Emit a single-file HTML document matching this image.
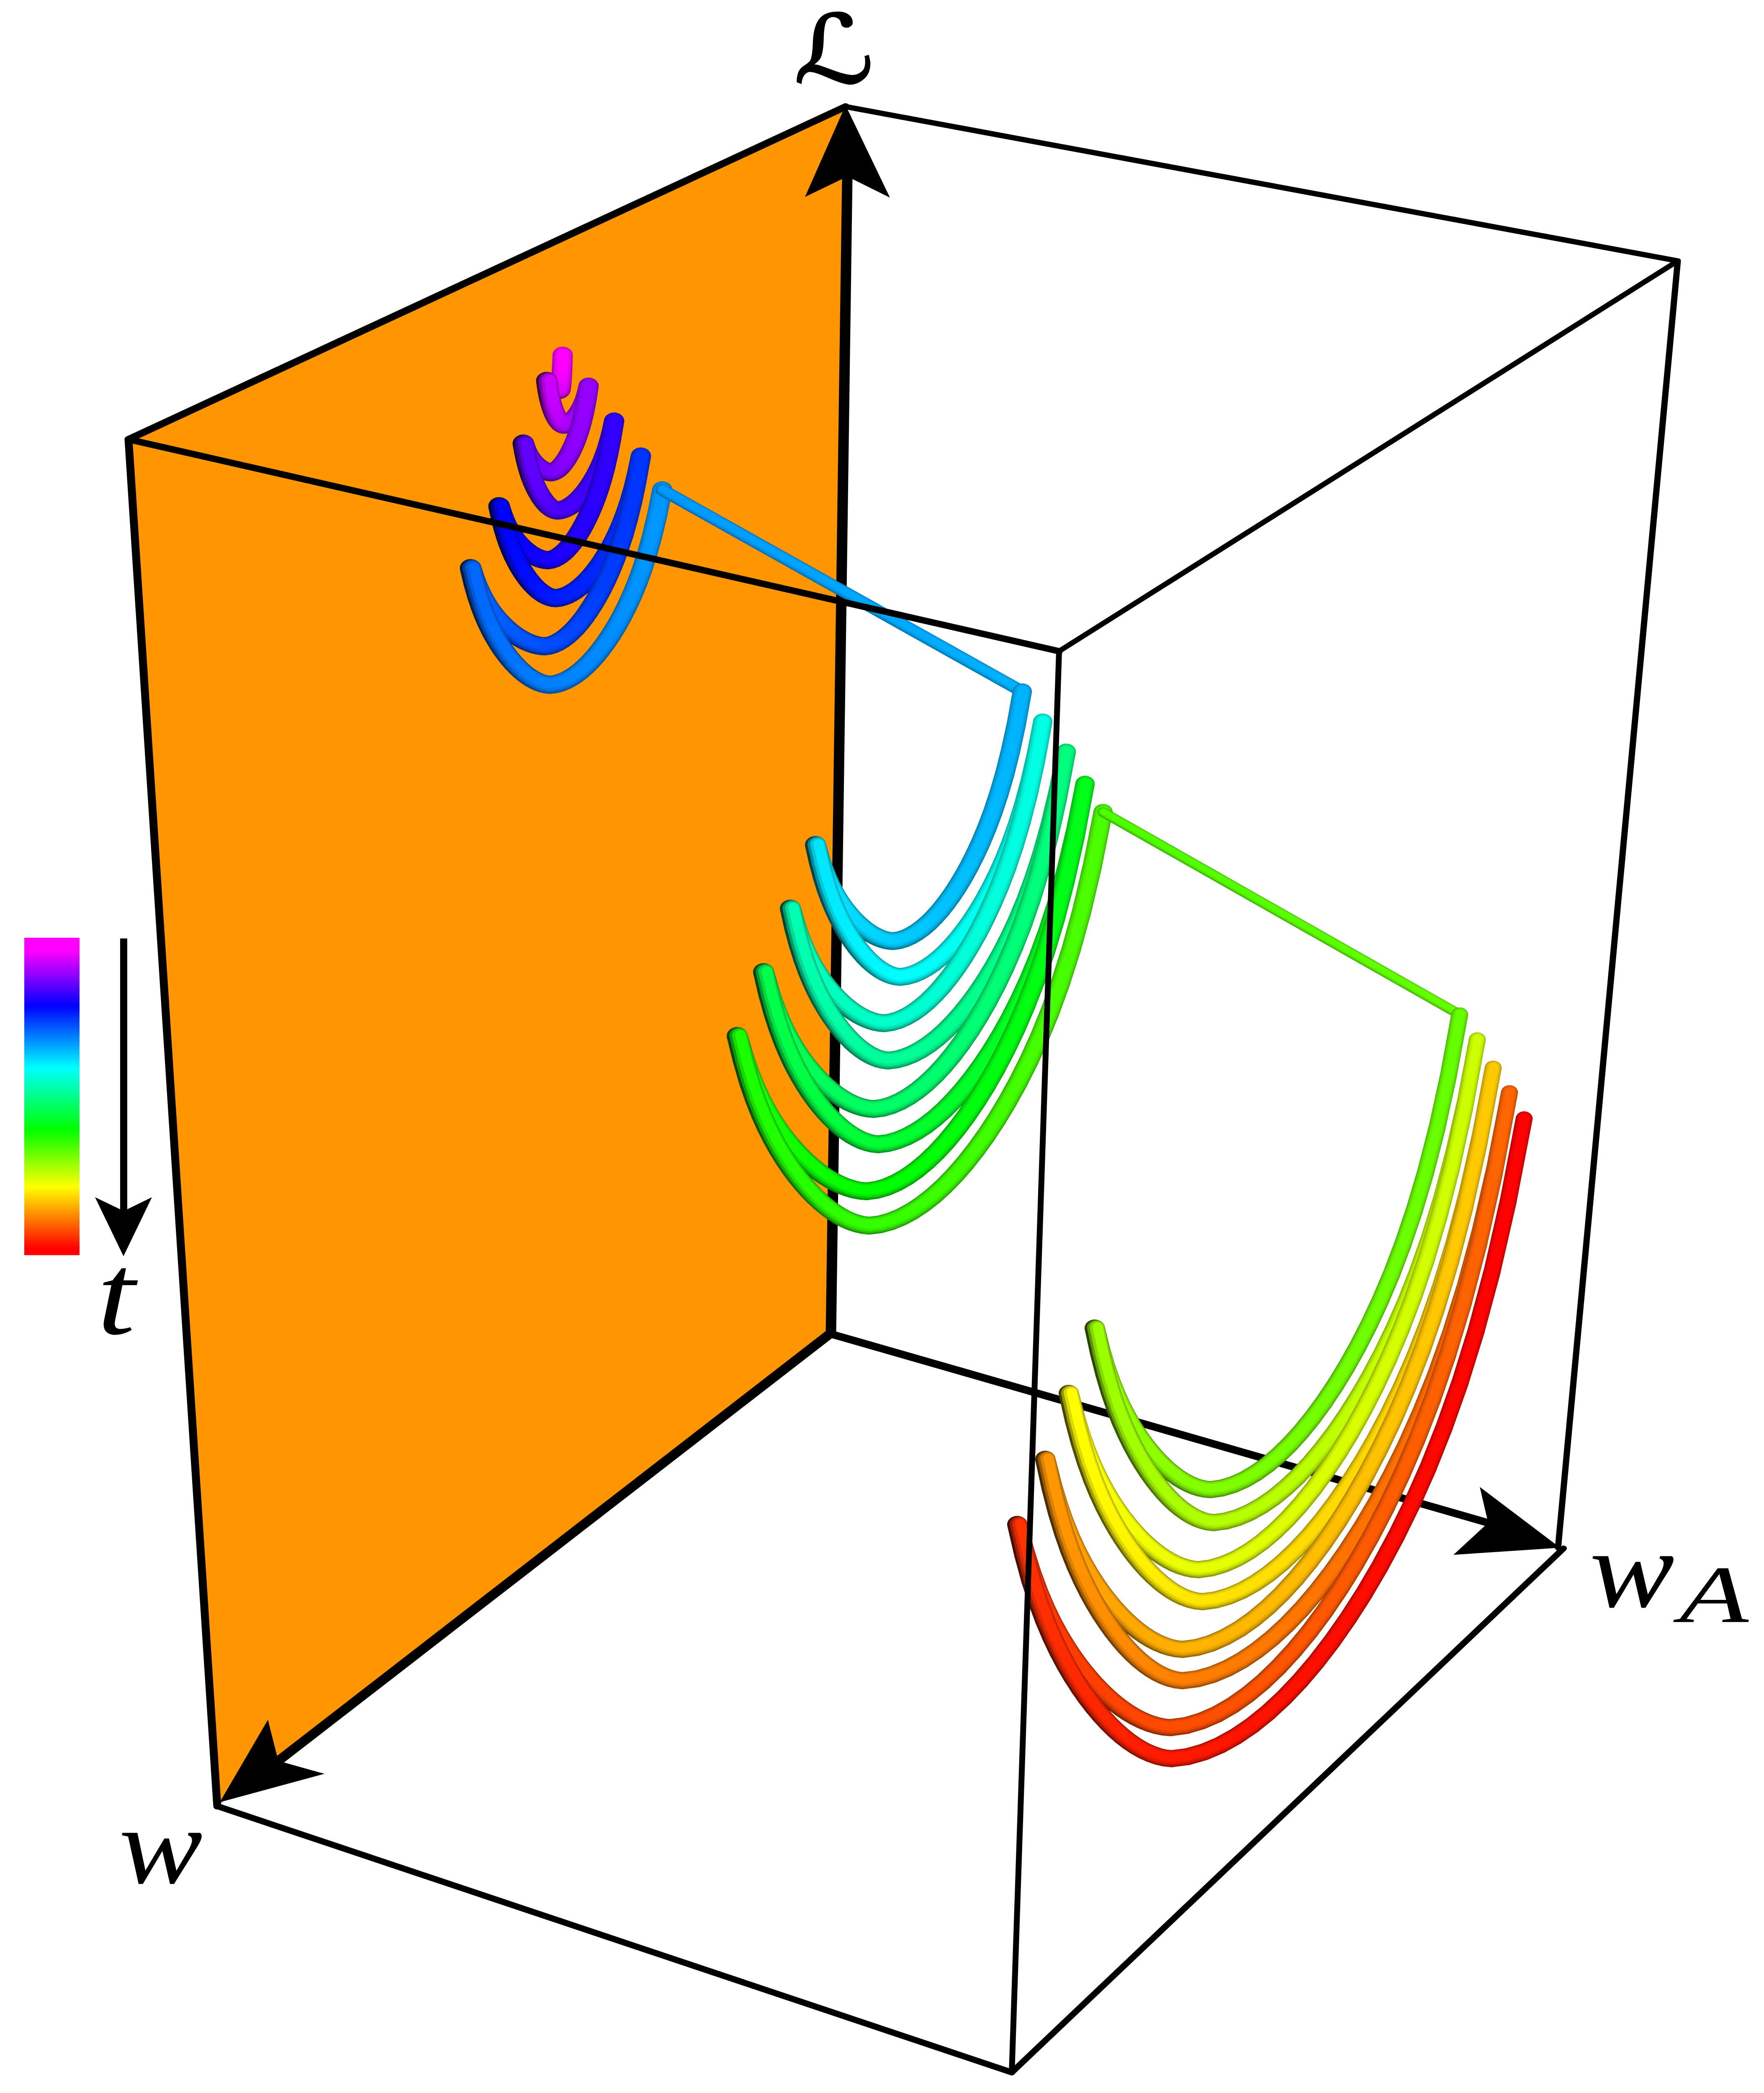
<!DOCTYPE html>
<html lang="en">
<head>
<meta charset="utf-8">
<title>Loss trajectory in weight space</title>
<style>
html,body{margin:0;padding:0;background:#fff;width:100vw;height:100vh;overflow:hidden;}
svg{display:block;position:absolute;left:0;top:0;width:100%;height:100%;}
text{fill:#000;font-family:"Liberation Serif","DejaVu Serif",serif;font-style:italic;}
</style>
</head>
<body>
<svg id="chart" xmlns="http://www.w3.org/2000/svg" viewBox="0 0 4214 5888" preserveAspectRatio="none">
  <defs>
    <linearGradient id="time-gradient" x1="0" y1="0" x2="0" y2="1">
      <stop offset="0.04" stop-color="#ff00ff"/>
      <stop offset="0.215" stop-color="#0000ff"/>
      <stop offset="0.41" stop-color="#00ffff"/>
      <stop offset="0.605" stop-color="#00ff00"/>
      <stop offset="0.785" stop-color="#ffff00"/>
      <stop offset="0.98" stop-color="#ff0000"/>
    </linearGradient>
  </defs>
  <rect x="0" y="0" width="4214" height="5888" fill="#fff"/>
  <polygon points="2024,292 307,1236 519,5081 1983,3752" fill="#ff9500"/>

  <g fill="none" stroke="#000" stroke-linecap="round" stroke-linejoin="round">
    <line x1="2020" y1="300" x2="307" y2="1236" stroke-width="19"/>
    <line x1="2020" y1="300" x2="4008" y2="734" stroke-width="15"/>
    <line x1="4008" y1="734" x2="2530" y2="1832" stroke-width="14"/>
    <line x1="4008" y1="734" x2="3722" y2="4354" stroke-width="15"/>
    <line x1="307" y1="1236" x2="519" y2="5081" stroke-width="19"/>
    <line x1="519" y1="5081" x2="2417" y2="5830" stroke-width="17"/>
    <line x1="3735" y1="4356" x2="2417" y2="5830" stroke-width="16"/>
  </g>

  <g stroke="#000" fill="#000">
    <line x1="1985" y1="3752" x2="2024" y2="500" stroke-width="25"/>
    <polygon stroke="none" points="2020,296 2126,556 2037,504 2011,504 1923,554"/>
    <line x1="1983" y1="3752" x2="670" y2="4949" stroke-width="25"/>
    <polygon stroke="none" points="525,5070 640,4838 662,4940 678,4958 775,4990"/>
    <line x1="1983" y1="3752" x2="3555" y2="4284" stroke-width="21"/>
    <polygon stroke="none" points="3727,4354 3535,4183 3555,4284 3472,4374"/>
  </g>

  <g id="tubes"></g>

  <g fill="none" stroke="#000" stroke-linecap="round">
    <line x1="307" y1="1236" x2="2530" y2="1832" stroke-width="18"/>
    <line x1="2530" y1="1832" x2="2417" y2="5830" stroke-width="14"/>
  </g>

  <g>
    <rect x="58" y="2638" width="132" height="893" fill="url(#time-gradient)"/>
    <rect x="287" y="2640" width="17" height="770" fill="#000"/>
    <polygon points="295,3534 227,3368 287,3402 304,3402 363,3368" fill="#000"/>
    <text x="232" y="3752" font-size="327">t</text>
  </g>

  <text x="1897" y="232" font-size="265" style="font-family:'DejaVu Sans','DejaVu Serif',serif;font-style:italic;stroke:#000;stroke-width:5">ℒ</text>
  <text x="284" y="5297" font-size="307" textLength="200" lengthAdjust="spacingAndGlyphs">w</text>
  <text x="3797" y="4520" font-size="310" textLength="203" lengthAdjust="spacingAndGlyphs">w</text>
  <text x="4012" y="4563" font-size="229" textLength="165" lengthAdjust="spacingAndGlyphs">A</text>
</svg>

<script>
// Weight plane held by each descent group
const groupWA = [0, 1, 2];

// Turning points: w and L values, alternating arm end / parabola bottom
const group1W = [-4.4, -3.7, -0.6, -4.7, -10.6, -1.6, 5.0, -3.2, -16.7, -0.9, 10.8, -2.7, -23.1, -0.1, 17.6, -1.4, -28.2];
const group1L = [396.1, 387.0, 392.3, 376.3, 381.8, 365.7, 379.7, 353.5, 366.5, 341.6, 367.3, 329.3, 350.9, 318.1, 356.0, 306.1, 336.8];

const group2W = [-28.5, 2.4, 20.9, 0.7, -33.4, 4.5, 26.9, 3.5, -39.0, 7.0, 33.3, 5.9, -43.5, 8.7, 39.6, 8.0, -47.8];
const group2L = [309.8, 267.4, 311.1, 255.8, 296.9, 246.2, 298.6, 234.8, 283.4, 224.3, 286.5, 213.4, 270.3, 202.7, 274.2, 192.4, 258.5];

const group3W = [-47.3, 12.3, 39.9, 11.5, -51.5, 15.1, 46.1, 14.2, -55.3, 18.9, 51.7, 18.9, -59.2, 21.8, 58.4, 21.5, -62.7];
const group3L = [232.0, 152.0, 222.3, 142.0, 221.2, 132.0, 209.5, 122.2, 209.8, 113.0, 196.0, 104.2, 199.4, 93.6, 183.7, 84.6, 188.9];

// Colour scale for time along the trajectory
const timeStops = [0, 0.2, 0.4, 0.6, 0.8, 1];
const timeColors = ['#ff00ff', '#0000ff', '#00ffff', '#00ff00', '#ffff00', '#ff0000'];

const groupWs = [group1W, group2W, group3W];
const groupLs = [group1L, group2L, group3L];
const SVGNS = 'http://www.w3.org/2000/svg';
const tubes = document.getElementById('tubes');

function xAxis(w, wA) { return 1300 + 857 * wA - 10 * w; }
function yAxis(w, L, wA) { return 5000 + 300 * wA + 9 * w - 10 * L; }
function project(w, L, wA) { return { x: xAxis(w, wA), y: yAxis(w, L, wA) }; }

function hexToRgb(h) {
  return [parseInt(h.substr(1, 2), 16), parseInt(h.substr(3, 2), 16), parseInt(h.substr(5, 2), 16)];
}
function colorAt(t) {
  let i = 0;
  while (i < timeStops.length - 2 && t > timeStops[i + 1]) i++;
  const f = Math.min(1, Math.max(0, (t - timeStops[i]) / (timeStops[i + 1] - timeStops[i])));
  const a = hexToRgb(timeColors[i]);
  const b = hexToRgb(timeColors[i + 1]);
  return [a[0] + (b[0] - a[0]) * f, a[1] + (b[1] - a[1]) * f, a[2] + (b[2] - a[2]) * f];
}
function shade(c, k) {
  return 'rgb(' + Math.round(c[0] * k) + ',' + Math.round(c[1] * k) + ',' + Math.round(c[2] * k) + ')';
}
// Shape of one arm between the bottom (s=0) and the arm end (s=1)
function armShape(s) {
  return 0.14 * Math.pow(s, 1.4) + 0.66 * s * s + 0.2 * Math.pow(s, 8);
}
// Light falls from the right: side runs from -1 (left arm tip) to 1 (right arm tip)
function rimShade(side) { return side >= 0 ? 0.6 + 0.15 * side : 0.6 + 0.34 * side; }
function lightShift(side) { return side >= 0 ? 0.03 : 0.03 - 0.1 * side; }

const layerScale = [1, 0.88, 0.72, 0.5];
const layerLight = [0, 0.45, 0.8, 1];
const layerShift = [0, 0.5, 0.9, 1.2];
const layerLift = [0, -0.03, -0.05, -0.07];

function drawTube(samples, name) {
  const g = document.createElementNS(SVGNS, 'g');
  
  
  layerScale.forEach(function (scale, pass) {
    for (let i = 0; i < samples.length - 1; i++) {
      const a = samples[i];
      const b = samples[i + 1];
      const side = (a.side + b.side) / 2;
      const wd = (a.width + b.width) / 2;
      const shift = lightShift(side) * layerShift[pass];
      const lift = layerLift[pass];
      const rim = rimShade(side);
      const k = rim + (1 - rim) * layerLight[pass];
      const seg = document.createElementNS(SVGNS, 'line');
      
      
      seg.setAttribute('x1', (a.x + shift * wd).toFixed(1));
      seg.setAttribute('y1', (a.y + lift * wd).toFixed(1));
      seg.setAttribute('x2', (b.x + shift * wd).toFixed(1));
      seg.setAttribute('y2', (b.y + lift * wd).toFixed(1));
      seg.setAttribute('stroke', shade(colorAt((a.t + b.t) / 2), k));
      seg.setAttribute('stroke-width', (wd * scale).toFixed(1));
      seg.setAttribute('stroke-linecap', 'round');
      g.appendChild(seg);
    }
  });
  tubes.appendChild(g);
}

const baseWidths = [51, 50, 48];
const rightTaper = [0.05, 0.08, 0.16];
const connectorWidths = [33, 27];
const SEGMENTS = 22;
const totalTurns = group1W.length + group2W.length + group3W.length - 1;
let turnIndex = 0;

function armSamples(pB, pE, tB, tE, baseW, taper, samples, reverse) {
  const list = [];
  const isRight = pE.x > pB.x;
  for (let k = 0; k <= SEGMENTS; k++) {
    const s = k / SEGMENTS;
    list.push({
      x: pB.x + (pE.x - pB.x) * s,
      y: pB.y + (pE.y - pB.y) * armShape(s),
      t: tB + (tE - tB) * s,
      side: (isRight ? 1 : -1) * s,
      width: baseW * (isRight ? 1 - taper * s : 1)
    });
  }
  if (reverse) list.reverse();
  list.forEach(function (p) { samples.push(p); });
}

groupWA.forEach(function (wA, g) {
  const W = groupWs[g];
  const L = groupLs[g];
  for (let j = 1; j < W.length - 1; j += 2) {
    const pA = project(W[j - 1], L[j - 1], wA);
    const pB = project(W[j], L[j], wA);
    const pC = project(W[j + 1], L[j + 1], wA);
    const samples = [];
    armSamples(pB, pA, (turnIndex + j) / totalTurns, (turnIndex + j - 1) / totalTurns, baseWidths[g], rightTaper[g], samples, true);
    armSamples(pB, pC, (turnIndex + j) / totalTurns, (turnIndex + j + 1) / totalTurns, baseWidths[g], rightTaper[g], samples, false);
    drawTube(samples, 'descent-sweep-g' + (g + 1) + '-' + ((j + 1) / 2));
  }
  turnIndex += W.length - 1;
  if (g < groupWA.length - 1) {
    const from = project(W[W.length - 1], L[L.length - 1], wA);
    const nextW = groupWs[g + 1];
    const nextL = groupLs[g + 1];
    const to = project(nextW[0], nextL[0], groupWA[g + 1]);
    const samples = [];
    for (let k = 0; k <= 12; k++) {
      const s = k / 12;
      samples.push({
        x: from.x + (to.x - from.x) * s,
        y: from.y + (to.y - from.y) * s,
        t: (turnIndex + s) / totalTurns,
        side: 0.6,
        width: connectorWidths[g]
      });
    }
    drawTube(samples, 'plane-jump-' + (g + 1));
    turnIndex += 1;
  }
});
</script>
</body>
</html>
